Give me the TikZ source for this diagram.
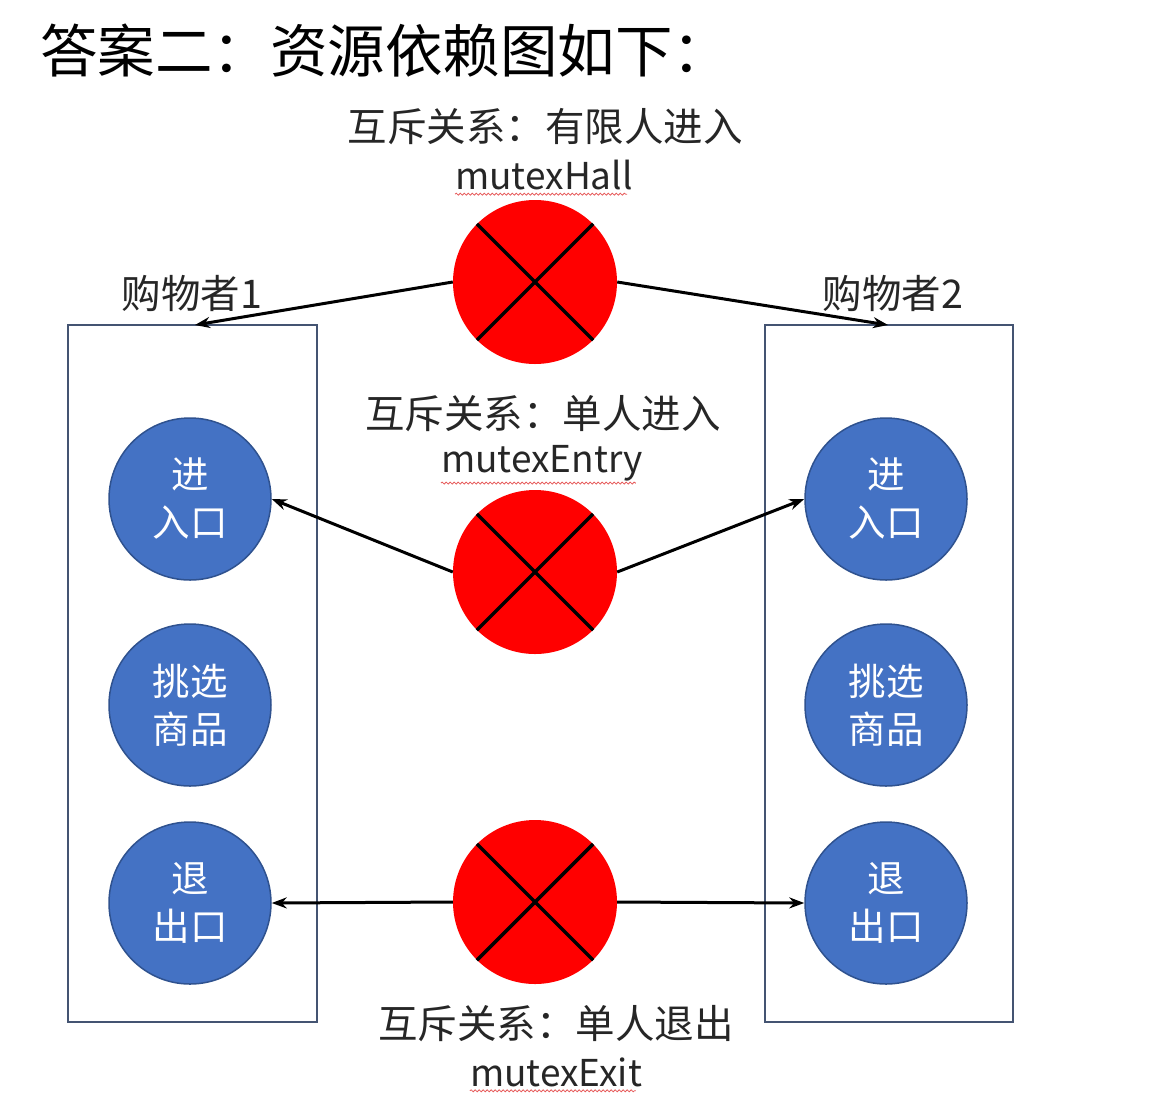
\documentclass[tikz,border=0pt]{standalone}
\usepackage{fontspec}
\newfontfamily\cjk{Noto Sans CJK SC}
\usetikzlibrary{arrows.meta,decorations.pathmorphing}
\definecolor{boxc}{RGB}{68,84,114}
\definecolor{bluef}{RGB}{68,114,196}
\definecolor{blued}{RGB}{47,82,143}
\definecolor{redf}{RGB}{255,0,0}
\definecolor{wavy}{RGB}{230,90,90}
\begin{document}
\begin{tikzpicture}[x=1pt,y=-1pt,
  every node/.style={font=\cjk},
  lbl/.style={inner sep=0pt,font=\cjk\fontsize{39.5}{44}\selectfont,text=black!85},
  lat/.style={inner sep=0pt,font=\cjk\fontsize{37}{44}\selectfont,text=black!85},
  act/.style={circle,draw=blued,line width=1.5pt,fill=bluef,minimum size=162pt,inner sep=0pt,
    text=white,align=center,font=\cjk\fontsize{37.5}{48}\selectfont},
  mtx/.style={circle,fill=redf,minimum size=164pt,inner sep=0pt},
  shopper/.style={draw=boxc,line width=1.8pt},
  arr/.style={line width=3pt,-{Stealth[length=15pt,width=11pt]}},
  cross/.style={line width=3.5pt,black},
  spell/.style={wavy,line width=0.8pt,decorate,decoration={snake,amplitude=1pt,segment length=4pt}}
]
\useasboundingbox (0,0) rectangle (1166,1109);
% title
\node[anchor=west,inner sep=0pt,font=\cjk\fontsize{57.5}{60}\selectfont] (title) at (40,51) {答案二：资源依赖图如下：};
% shopper boxes
\draw[shopper] (68,325) rectangle (317,1022);
\draw[shopper] (765,325) rectangle (1013,1022);
\node[lbl] (s1) at (192,294) {购物者1};
\node[lbl] (s2) at (893,294) {购物者2};
\coordinate (b1) at (195,325);
\coordinate (b2) at (888,325);
% activity circles
\node[act] (in1) at (190,499) {进\\入口};
\node[act] (pick1) at (190,705) {挑选\\商品};
\node[act] (out1) at (190,903) {退\\出口};
\node[act] (in2) at (886,499) {进\\入口};
\node[act] (pick2) at (886,705) {挑选\\商品};
\node[act] (out2) at (886,903) {退\\出口};
% mutex circles
\node[mtx] (hall) at (535,282) {};
\node[mtx] (entry) at (535,572) {};
\node[mtx] (exit) at (535,902) {};
\foreach \m in {hall,entry,exit}{
  \draw[cross] (\m.45) -- (\m.225);
  \draw[cross] (\m.135) -- (\m.315);
}
% labels
\node[lbl] (lh1) at (545,127) {互斥关系：有限人进入};
\node[lat] (lh2) at (544,175) {mutexHall};
\node[lbl] (le1) at (543,414) {互斥关系：单人进入};
\node[lat] (le2) at (542,463) {mutexEntry};
\node[lbl] (lx1) at (556,1024) {互斥关系：单人退出};
\node[lat] (lx2) at (556,1072) {mutexExit};
\draw[spell] (lh2.south west) ++(0,4) -- ++(172,0);
\draw[spell] (le2.south west) ++(0,2) -- ++(195,0);
\draw[spell] (lx2.south west) ++(0,4) -- ++(166,0);
% arrows
\draw[arr] (hall.west) -- (b1);
\draw[arr] (hall.east) -- (b2);
\draw[arr] (entry.west) -- (in1.east);
\draw[arr] (entry.east) -- (in2.west);
\draw[arr] (exit.west) -- (out1.east);
\draw[arr] (exit.east) -- (out2.west);
\end{tikzpicture}
\end{document}
